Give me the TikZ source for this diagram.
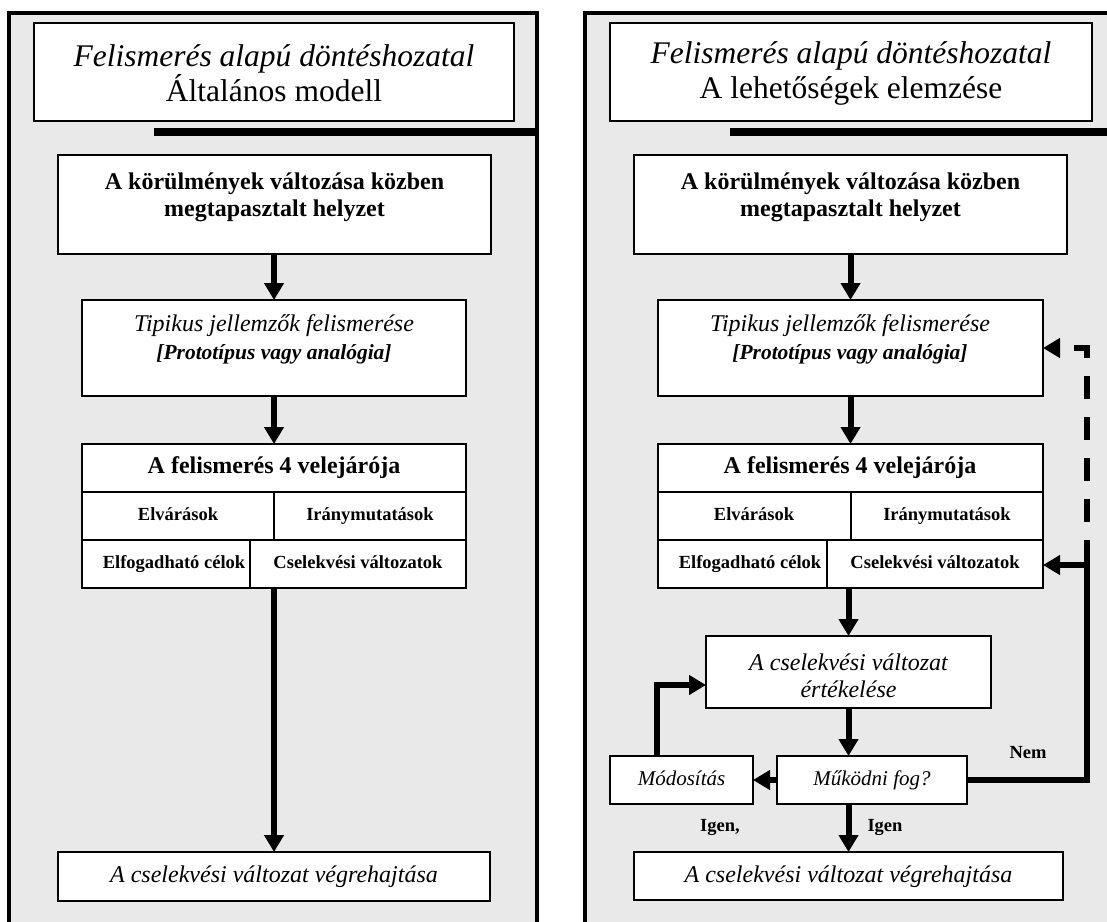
\documentclass[tikz,border=0pt]{standalone}
\usepackage{fontspec}
\setmainfont{Liberation Serif}
\usetikzlibrary{arrows.meta,fit}
\definecolor{panelgray}{RGB}{233,233,233}
\tikzset{
  panel/.style={draw=black, line width=3.5pt, fill=panelgray},
  box/.style={draw=black, line width=1.8pt, fill=white, inner sep=0pt, outer sep=0pt},
  flow/.style={line width=6pt, -{Triangle[length=17pt,width=19pt]}},
  plainline/.style={line width=6pt},
  bar/.style={line width=8pt},
  txt/.style={inner sep=0pt, align=center},
  ttl/.style={txt, font=\fontsize{31.5}{35}\selectfont},
  btxt/.style={txt, font=\bfseries\fontsize{24}{27}\selectfont},
  itxt/.style={txt, font=\itshape\fontsize{24}{27}\selectfont},
  one24/.style={text height=17pt, text depth=6pt},
  sitxt/.style={txt, font=\itshape\fontsize{21}{24}\selectfont, text height=15pt, text depth=5pt},
  sbtxt/.style={txt, font=\bfseries\fontsize{18.5}{21}\selectfont, text height=13pt, text depth=4pt},
  dashline/.style={line width=6pt, dash pattern=on 23pt off 18pt, dash phase=21pt}
}
\begin{document}
\begin{tikzpicture}[x=1pt,y=-1pt]
\useasboundingbox (0,0) rectangle (1107,921);
\clip (0,0) rectangle (1107,921);
% ---------------- left panel ----------------
\draw[panel] (9,13) rectangle (537,960);
\node[box, fit={(34,23) (514,121)}] (Lt) {};
\node[ttl] (Ltt) at (274,73) {\textit{Felismerés alapú döntéshozatal}\\Általános modell};
\coordinate (Lbar) at (154,132);
\draw[bar] (Lbar) -- (537,132);
\node[box, fit={(58,155) (491,254)}] (L1) {};
\node[btxt] (L1t) at (274.5,197) {A körülmények változása közben\\megtapasztalt helyzet};
\node[box, fit={(82,300) (466,396)}] (L2) {};
\node[itxt] (L2t) at (274,339) {Tipikus jellemzők felismerése\\[1pt]{\bfseries\itshape\fontsize{21.5}{27}\selectfont [Prototípus vagy analógia]}};
\node[box, fit={(82,444) (466,492)}] (L3h) {};
\node[btxt, one24] (L3ht) at (274,468) {A felismerés 4 velejárója};
\node[box, fit={(82,492) (274,540)}] (L3a) {};
\node[box, fit={(274,492) (466,540)}] (L3b) {};
\node[box, fit={(82,540) (250,588)}] (L3c) {};
\node[box, fit={(250,540) (466,588)}] (L3d) {};
\node[sbtxt] (L3at) at (178,516) {Elvárások};
\node[sbtxt] (L3bt) at (370,516) {Iránymutatások};
\node[sbtxt] (L3ct) at (174,564) {Elfogadható célok};
\node[sbtxt] (L3dt) at (358,564) {Cselekvési változatok};
\node[box, fit={(58,852) (490,901)}] (LF) {};
\node[itxt, one24] (LFt) at (274,877) {A cselekvési változat végrehajtása};
\draw[flow] (L1.south -| L3h.center) -- (L2.north -| L3h.center);
\draw[flow] (L2.south -| L3h.center) -- (L3h.north);
\draw[flow] (L3d.south -| L3h.center) -- (LF.north -| L3h.center);
% ---------------- right panel ----------------
\draw[panel] (585,13) rectangle (1140,960);
\node[box, fit={(610,23) (1092,121)}] (Rt) {};
\node[ttl] (Rtt) at (851,73) {\textit{Felismerés alapú döntéshozatal}\\A lehetőségek elemzése};
\coordinate (Rbar) at (730,132);
\draw[bar] (Rbar) -- (1140,132);
\node[box, fit={(634,155) (1067,254)}] (R1) {};
\node[btxt] (R1t) at (850.5,197) {A körülmények változása közben\\megtapasztalt helyzet};
\node[box, fit={(658,300) (1043,396)}] (R2) {};
\node[itxt] (R2t) at (850,339) {Tipikus jellemzők felismerése\\[1pt]{\bfseries\itshape\fontsize{21.5}{27}\selectfont [Prototípus vagy analógia]}};
\node[box, fit={(658,444) (1043,492)}] (R3h) {};
\node[btxt, one24] (R3ht) at (850,468) {A felismerés 4 velejárója};
\node[box, fit={(658,492) (851,540)}] (R3a) {};
\node[box, fit={(851,492) (1043,540)}] (R3b) {};
\node[box, fit={(658,540) (827,588)}] (R3c) {};
\node[box, fit={(827,540) (1043,588)}] (R3d) {};
\node[sbtxt] (R3at) at (754,516) {Elvárások};
\node[sbtxt] (R3bt) at (947,516) {Iránymutatások};
\node[sbtxt] (R3ct) at (750,564) {Elfogadható célok};
\node[sbtxt] (R3dt) at (935,564) {Cselekvési változatok};
\node[box, fit={(706,636) (991,708)}] (E) {};
\node[itxt] (Et) at (848.5,676) {A cselekvési változat\\értékelése};
\node[box, fit={(610,756) (753,804)}] (M) {};
\node[sitxt] (Mt) at (681.5,780) {Módosítás};
\node[box, fit={(777,756) (967,804)}] (W) {};
\node[sitxt] (Wt) at (872,780) {Működni fog?};
\node[box, fit={(634,852) (1063,900)}] (RF) {};
\node[itxt, one24] (RFt) at (848.5,877) {A cselekvési változat végrehajtása};
\draw[flow] (R1.south -| R3h.center) -- (R2.north -| R3h.center);
\draw[flow] (R2.south -| R3h.center) -- (R3h.north);
\draw[flow] (R3d.south -| E.center) -- (E.north);
\draw[flow] (E.south) -- (W.north -| E.south);
\draw[flow] (W.west) -- (M.east);
\coordinate (mturn) at (657,685);
\draw[flow] (M.north -| mturn) -- (mturn) -- (E.west |- mturn);
\draw[flow] (W.south -| E.south) -- (RF.north -| E.south);
\coordinate (nemc) at (1087,780);
\coordinate (nemup) at (1087,542);
\coordinate (nemin) at (1087,565);
\coordinate (dtop) at (1087,348);
\draw[plainline] (W.east) -- (nemc) -- (nemup);
\draw[flow] (nemin) -- (R3d.east |- nemin);
\draw[dashline, -{Triangle[length=17pt,width=19pt]}] (nemup) -- (dtop) -- (R2.east |- dtop);
\node[sbtxt] (nem) at (1028,754) {Nem};
\node[sbtxt] (igen) at (885,827) {Igen};
\node[sbtxt] (igen2) at (720,827) {Igen,};
\end{tikzpicture}
\end{document}
